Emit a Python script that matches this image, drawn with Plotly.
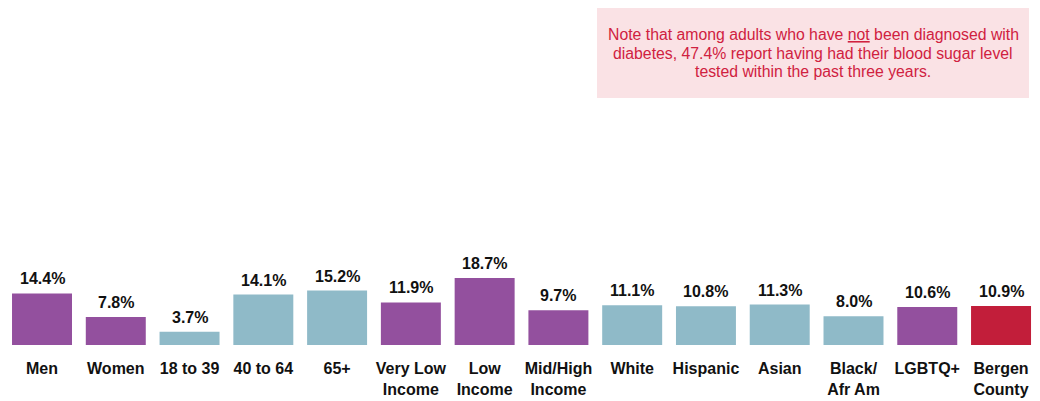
import plotly.graph_objects as go

# data
categories = ["Men", "Women", "18 to 39", "40 to 64", "65+", "Very Low<br>Income",
              "Low<br>Income", "Mid/High<br>Income", "White", "Hispanic", "Asian",
              "Black/<br>Afr Am", "LGBTQ+", "Bergen<br>County"]
values = [14.4, 7.8, 3.7, 14.1, 15.2, 11.9, 18.7, 9.7, 11.1, 10.8, 11.3, 8.0, 10.6, 10.9]
groups = ["focus", "focus", "other", "other", "other", "focus", "focus", "focus",
          "other", "other", "other", "other", "focus", "total"]

note_lines = [
    "Note that among adults who have <u>not</u> been diagnosed with",
    "diabetes, 47.4% report having had their blood sugar level",
    "tested within the past three years.",
]

PALETTE = {"focus": "#93509E", "other": "#8FBAC8", "total": "#C21E3A"}
FONT = "Liberation Sans Narrow, Arial Narrow, Liberation Sans, Arial, sans-serif"
NOTE_RED = "#D0213F"

# plot area is 1030 x 337 px
PW, PH = 1030, 337

bar = go.Bar(
    x=list(range(len(categories))),
    y=values,
    marker=dict(color=[PALETTE[g] for g in groups], line=dict(width=0)),
    hoverinfo="skip",
)

annotations = [
    dict(x=i, y=v, xref="x", yref="y", text=f"{v:.1f}%", showarrow=False,
         yanchor="bottom", yshift=4,
         font=dict(family=FONT, size=16, color="#111111", weight="bold"))
    for i, v in enumerate(values)
]

for k, line in enumerate(note_lines):
    annotations.append(dict(
        xref="paper", yref="paper",
        x=805 / PW, y=1 - (27 + 18 * k) / PH,
        xanchor="center", yanchor="middle",
        text=line, showarrow=False,
        font=dict(family="Liberation Sans, Arial, sans-serif", size=15.8, color=NOTE_RED),
    ))

layout = go.Layout(
    width=1040,
    height=401,
    margin=dict(l=0, r=10, t=0, b=64, autoexpand=False),
    paper_bgcolor="white",
    plot_bgcolor="white",
    bargap=0.187,
    showlegend=False,
    xaxis=dict(
        tickmode="array",
        tickvals=list(range(len(categories))),
        ticktext=categories,
        range=[-0.461, 13.501],
        tickfont=dict(family=FONT, size=16, color="#111111", weight="bold"),
        showline=False,
        showgrid=False,
        zeroline=False,
        ticks="",
        ticklabelstandoff=12,
        automargin=False,
    ),
    yaxis=dict(range=[0, 94.1], visible=False),
    shapes=[dict(
        type="rect", xref="paper", yref="paper",
        x0=589 / PW, x1=1021 / PW, y0=1 - 90 / PH, y1=1,
        fillcolor="#FAE2E5", line=dict(width=0), layer="below",
    )],
    annotations=annotations,
)

fig = go.Figure(data=[bar], layout=layout)
fig.write_html("out.html")
